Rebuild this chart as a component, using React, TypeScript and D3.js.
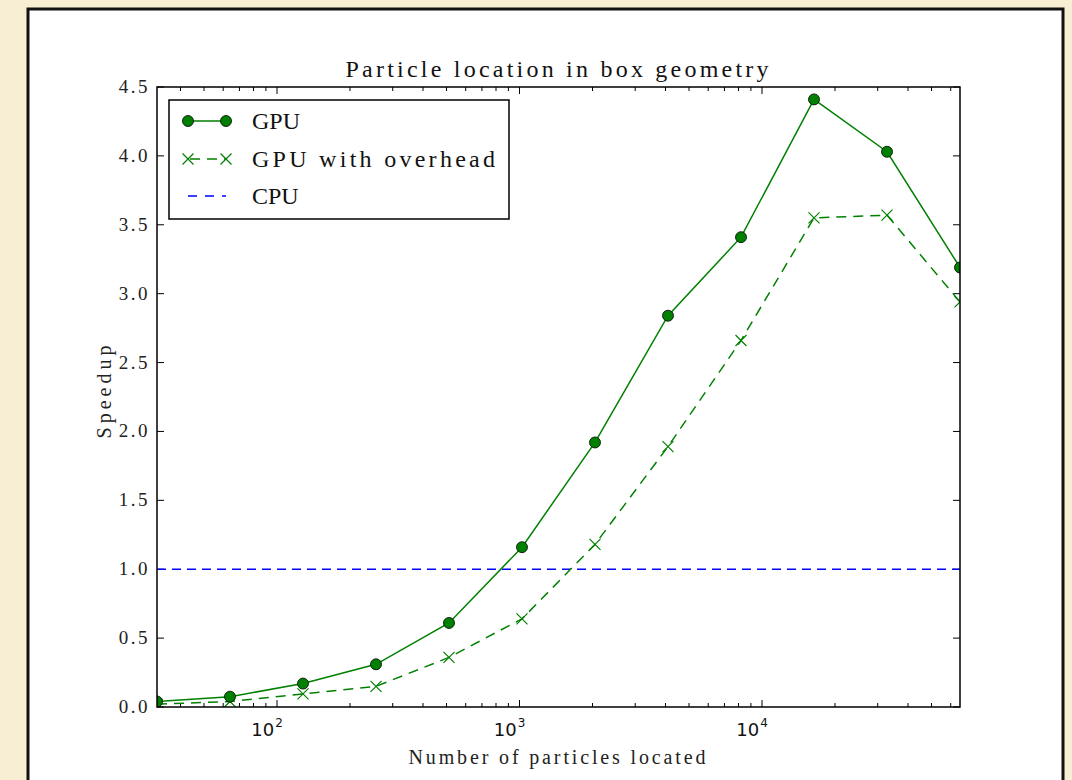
import React from 'react';
import * as d3 from 'd3';

// number of particles (log x axis)
const particles = [32, 64, 128, 256, 512, 1024, 2048, 4096, 8192, 16384, 32768, 65536];
// speedup values
const gpuSpeedup = [0.04, 0.075, 0.17, 0.31, 0.61, 1.16, 1.92, 2.84, 3.41, 4.41, 4.03, 3.19];
const gpuOverheadSpeedup = [0.02, 0.04, 0.095, 0.15, 0.36, 0.64, 1.18, 1.89, 2.66, 3.55, 3.57, 2.94];
const cpuSpeedup = 1.0;

const yTicks = [0, 0.5, 1, 1.5, 2, 2.5, 3, 3.5, 4, 4.5];
const xMajorTicks = [100, 1000, 10000];
const legendLabels = ['GPU', 'GPU with overhead', 'CPU'];

const W = 1072;
const H = 780;
const margin = { left: 157, top: 87, right: 960, bottom: 707 };
const green = '#008000';
const serif = '"Liberation Serif", "Times New Roman", serif';

const App = () => {
  const x = d3.scaleLog().domain([32, 65536]).range([margin.left, margin.right]);
  const y = d3.scaleLinear().domain([0, 4.5]).range([margin.bottom, margin.top]);

  const minorTicks: number[] = [];
  for (let p = 1; p <= 4; p++) {
    for (let m = 2; m <= 9; m++) {
      const v = m * Math.pow(10, p);
      if (v >= 32 && v <= 65536) minorTicks.push(v);
    }
  }

  const line = d3.line<number>()
    .x((_, i) => x(particles[i]))
    .y(d => y(d));

  const crossPath = (cx: number, cy: number, s: number) =>
    `M${cx - s},${cy - s}L${cx + s},${cy + s}M${cx - s},${cy + s}L${cx + s},${cy - s}`;

  const legX = 169;
  const legY = 100;
  const rowY = [121, 159, 196];

  return (
    <svg width={W} height={H} style={{ position: 'absolute', left: 0, top: 0, display: 'block' }}>
      <rect x={0} y={0} width={W} height={H} fill="#f7eed3" />
      {/* figure panel */}
      <rect x={28} y={9} width={1035} height={H + 20} fill="#ffffff" stroke="#111" strokeWidth={3} />

      {/* title */}
      <text x={557} y={77} textAnchor="middle" fontFamily={serif} fontSize={24} fill="#111"
        textLength={423} lengthAdjust="spacing">Particle location in box geometry</text>

      <defs>
        <clipPath id="plotClip">
          <rect x={margin.left} y={margin.top} width={margin.right - margin.left} height={margin.bottom - margin.top} />
        </clipPath>
      </defs>

      {/* y ticks */}
      {yTicks.map(t => (
        <g key={'y' + t}>
          <line x1={margin.left} x2={margin.left + 7} y1={y(t)} y2={y(t)} stroke="#000" />
          <line x1={margin.right} x2={margin.right - 7} y1={y(t)} y2={y(t)} stroke="#000" />
          <text x={150} y={y(t) + 6} textAnchor="end" fontFamily={serif} fontSize={19}
            letterSpacing={2.5} fill="#222">{t.toFixed(1)}</text>
        </g>
      ))}

      {/* x ticks */}
      {minorTicks.map(t => (
        <g key={'xm' + t}>
          <line x1={x(t)} x2={x(t)} y1={margin.bottom} y2={margin.bottom - 4} stroke="#000" />
          <line x1={x(t)} x2={x(t)} y1={margin.top} y2={margin.top + 4} stroke="#000" />
        </g>
      ))}
      {xMajorTicks.map(t => (
        <g key={'x' + t}>
          <line x1={x(t)} x2={x(t)} y1={margin.bottom} y2={margin.bottom - 7} stroke="#000" />
          <line x1={x(t)} x2={x(t)} y1={margin.top} y2={margin.top + 7} stroke="#000" />
          <text x={x(t) - 10} y={736} textAnchor="middle" fontFamily="DejaVu Sans, sans-serif" fontSize={18} fill="#111">
            10
            <tspan dx={1} dy={-9} fontSize={12}>{Math.round(Math.log10(t))}</tspan>
          </text>
        </g>
      ))}

      {/* series */}
      <g clipPath="url(#plotClip)">
        <line x1={margin.left} x2={margin.right} y1={y(cpuSpeedup)} y2={y(cpuSpeedup)}
          stroke="#0000ff" strokeWidth={1.5} strokeDasharray="9,6" />
        <path d={line(gpuOverheadSpeedup) || ''} fill="none" stroke={green} strokeWidth={1.5} strokeDasharray="10,7" />
        {gpuOverheadSpeedup.map((v, i) => (
          <path key={'x' + i} d={crossPath(x(particles[i]), y(v), 5.5)} stroke={green} strokeWidth={1.2} fill="none" />
        ))}
        <path d={line(gpuSpeedup) || ''} fill="none" stroke={green} strokeWidth={1.5} />
        {gpuSpeedup.map((v, i) => (
          <circle key={'c' + i} cx={x(particles[i])} cy={y(v)} r={5.5} fill={green} stroke="#000" strokeWidth={0.8} />
        ))}
      </g>

      {/* plot frame */}
      <rect x={margin.left} y={margin.top} width={margin.right - margin.left} height={margin.bottom - margin.top}
        fill="none" stroke="#000" strokeWidth={1.5} />

      {/* axis labels */}
      <text x={557} y={764} textAnchor="middle" fontFamily={serif} fontSize={20} fill="#222"
        textLength={297} lengthAdjust="spacing">Number of particles located</text>
      <text transform={`translate(111,392) rotate(-90)`} textAnchor="middle" fontFamily={serif} fontSize={20} fill="#222"
        textLength={93} lengthAdjust="spacing">Speedup</text>

      {/* legend */}
      <rect x={legX} y={legY} width={340} height={119} fill="#fff" stroke="#000" strokeWidth={1.5} />
      <line x1={188} x2={226} y1={rowY[0]} y2={rowY[0]} stroke={green} strokeWidth={1.5} />
      <circle cx={188} cy={rowY[0]} r={5.5} fill={green} stroke="#000" strokeWidth={0.8} />
      <circle cx={226} cy={rowY[0]} r={5.5} fill={green} stroke="#000" strokeWidth={0.8} />
      <line x1={188} x2={226} y1={rowY[1]} y2={rowY[1]} stroke={green} strokeWidth={1.5} strokeDasharray="10,7" strokeDashoffset={-2} />
      <path d={crossPath(188, rowY[1], 5.5)} stroke={green} strokeWidth={1.2} fill="none" />
      <path d={crossPath(226, rowY[1], 5.5)} stroke={green} strokeWidth={1.2} fill="none" />
      <line x1={188} x2={226} y1={rowY[2]} y2={rowY[2]} stroke="#0000ff" strokeWidth={1.5} strokeDasharray="9,8" />
      {legendLabels.map((l, i) => (
        <text key={l} x={252} y={rowY[i] + 8} fontFamily={serif} fontSize={24} fill="#111"
          textLength={i === 1 ? 243 : undefined} lengthAdjust="spacing">{l}</text>
      ))}
    </svg>
  );
};

export default App;
